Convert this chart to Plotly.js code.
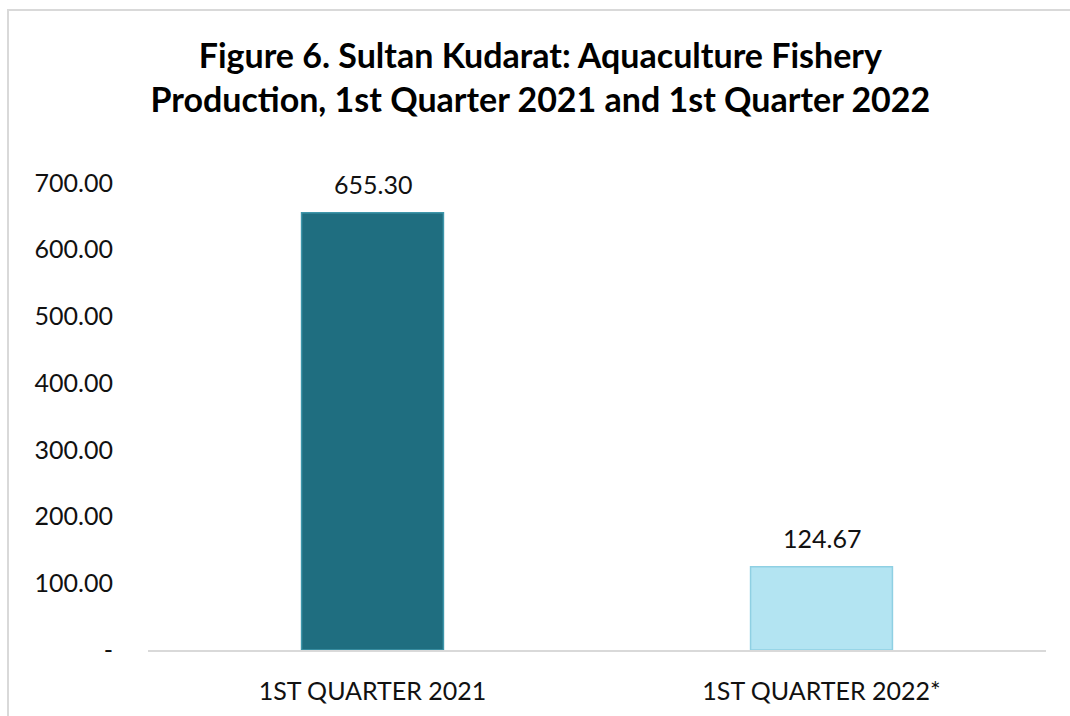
<!DOCTYPE html>
<html><head><meta charset="utf-8">
<script src="https://cdn.plot.ly/plotly-3.0.1.min.js"></script>
<style>
html,body{margin:0;padding:0;background:#fff;}
#wrap{position:relative;width:1070px;height:716px;overflow:hidden;}
#frame{position:absolute;left:7px;top:9px;width:1200px;height:900px;border-left:2px solid #d9d9d9;border-top:2px solid #d9d9d9;pointer-events:none;}
#chart{position:absolute;left:0;top:0;width:1070px;height:716px;}
</style></head>
<body>
<div id="wrap"><div id="chart"></div><div id="frame"></div></div>
<script>
const categories = ["1ST QUARTER 2021", "1ST QUARTER 2022*"];
const values = [655.30, 124.67];
const tickValues = [0, 100, 200, 300, 400, 500, 600, 700];
const tickLabels = ["-", "100.00", "200.00", "300.00", "400.00", "500.00", "600.00", "700.00"];
const titleText = "<b>Figure 6. Sultan Kudarat: Aquaculture Fishery<br>Production, 1st Quarter 2021 and 1st Quarter 2022</b>";

const FONT = "Lato, 'Open Sans', sans-serif";

const trace = {
  type: "bar",
  x: categories,
  y: values,
  marker: {
    color: ["#1f6e80", "#b3e4f2"],
    line: {color: ["#3f96aa", "#8fd0e3"], width: 1.5}
  },
  hoverinfo: "none"
};

const annotations = categories.map((c, i) => ({
  x: c, y: values[i], xref: "x", yref: "y",
  text: values[i].toFixed(2), showarrow: false,
  yanchor: "bottom", yshift: 12,
  font: {family: FONT, size: 25, color: "#111"}
}));

const layout = {
  width: 1070, height: 716,
  margin: {l: 148, r: 24, t: 183, b: 66},
  paper_bgcolor: "#fff", plot_bgcolor: "#fff",
  title: {
    text: titleText, x: 0.505, xanchor: "center", y: 0.905, yanchor: "middle",
    font: {family: FONT, size: 34, color: "#000"}
  },
  bargap: 0.684,
  showlegend: false,
  xaxis: {
    type: "category",
    showline: true, linecolor: "#d9d9d9", linewidth: 2,
    showgrid: false, ticks: "",
    ticklabelstandoff: 18,
    tickfont: {family: FONT, size: 25, color: "#111"}
  },
  yaxis: {
    range: [0, 700],
    tickvals: tickValues, ticktext: tickLabels,
    showgrid: false, zeroline: false, showline: false, ticks: "",
    ticklabelstandoff: 34,
    tickfont: {family: FONT, size: 25, color: "#111"}
  },
  annotations: annotations
};

Plotly.newPlot("chart", [trace], layout, {displayModeBar: false, staticPlot: true});
</script>
</body></html>
